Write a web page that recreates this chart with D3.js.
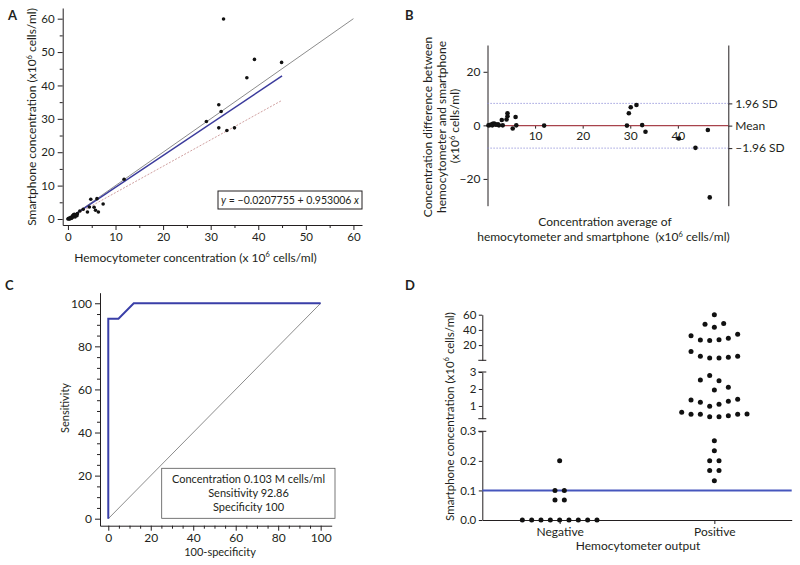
<!DOCTYPE html>
<html><head><meta charset="utf-8">
<script src="https://cdn.jsdelivr.net/npm/d3@7"></script>
<style>
body{margin:0;background:#fff}
text{font-family:Lato,'Open Sans',sans-serif;fill:#231f20}
</style>
</head><body>
<svg id="c" width="800" height="565"></svg>
<script>
// ---------- Panel A data ----------
const hemoA  = [32.7,39.2,44.9,37.6,31.7,32.2,29.1,31.7,33.4,35.0,11.8,4.8,6.1,7.4,4.5,4.1,5.5,5.8,6.4,2.5,3.2,0.0,0.1,0.2,0.3,0.5,0.6,0.7,0.9,1.0,1.1,1.2,1.3,1.4,1.5,1.7,1.9,2.0,0.4,0.8];
const smartA = [59.9,47.8,46.9,42.3,34.2,32.2,29.2,27.3,26.5,27.3,11.9,5.9,6.1,4.5,3.6,2.1,3.5,2.6,2.1,2.4,2.9,0.0,0.1,0.2,0.1,0.3,0.5,0.3,0.6,1.0,0.7,1.3,0.9,1.4,0.6,1.2,1.0,1.6,0.0,0.2];
const fitIntercept = -0.0207755, fitSlope = 0.953006, fitMaxX = 45;
const lowerSlope = 0.79;
const ticksA = [0,10,20,30,40,50,60];
const minorA = [5,15,25,35,45,55];

// ---------- Panel B data ----------
const avgB  = [46.7,43.7,46.3,40.2,33.2,32.5,31.3,30.1,29.7,29.3,11.9,5.9,6.05,5.3,4.2,4.2,4.0,3.0,2.4,1.1,0.5,0.2,0.8,1.4,1.8,2.2,1.0,1.6,3.2];
const diffB = [-26.9,-8.4,-1.75,-4.9,-2.4,0.1,7.6,6.75,4.5,-0.1,-0.1,3.1,0.0,-1.2,4.5,3.4,2.2,2.0,0.0,0.6,0.1,0.0,0.3,0.7,0.2,0.4,0.0,0.4,0.0];
const meanB = -0.1, upperB = 8.2, lowerB = -8.5;
const limitLabelsB = ["1.96 SD","Mean","\u20131.96 SD"];
const ticksBx = [10,20,30,40];
const ticksBy = [-20,0,20];

// ---------- Panel C data ----------
const rocX = [0,0,4.8,12,100];
const rocY = [0,92.86,92.86,100,100];
const ticksC = [0,20,40,60,80,100];
const minorC = [5,10,15,25,30,35,45,50,55,65,70,75,85,90,95];
const legendC = ["Concentration 0.103 M cells/ml","Sensitivity 92.86","Specificity 100"];

// ---------- Panel D data ----------
const categoriesD = ["Negative","Positive"];
const negValues = [0.2,0.1,0.1,0.0676,0.0676,0,0,0,0,0,0,0,0,0];
const posValues = [60,47.5,43.5,48.4,32.4,26.7,26.2,27.1,28.9,34.2,11.6,5.3,3.1,3.1,4.0,5.3,2.53,2.8,2.49,2.1,1.94,1.35,1.22,0.98,1.1,1.28,1.39,0.63,0.51,0.51,0.37,0.37,0.43,0.51,0.53,0.268,0.234,0.2,0.2,0.167,0.167,0.133];
const cutoffD = 0.1;
const seg1Ticks = [0,0.1,0.2,0.3], seg2Ticks = [1,2,3], seg3Ticks = [20,40,60];

const svg = d3.select('#c');
const INK = '#231f20';

function styleAxis(g, fs){
  g.attr('font-family', null).attr('font-size', fs);
  g.selectAll('path,line').attr('stroke', INK).attr('stroke-width', 1);
  g.selectAll('text').attr('fill', INK);
}
function rich(g, parts, attrs){
  const t = g.append('text');
  Object.entries(attrs).forEach(([k,v]) => t.attr(k,v));
  let prevSup = false;
  parts.forEach(p => {
    const isSup = typeof p !== 'string';
    const ts = t.append('tspan').text(isSup ? p.sup : p);
    if (isSup) { ts.attr('font-size', 7.5); if (!prevSup) ts.attr('dy', -4.5); }
    else if (prevSup) ts.attr('dy', 4.5);
    prevSup = isSup;
  });
  return t;
}
function label(g, txt, x, y, opts){
  const t = g.append('text').attr('x', x).attr('y', y).attr('font-size', (opts&&opts.fs)||11)
    .attr('text-anchor', (opts&&opts.anchor)||'middle').text(txt);
  if (opts && opts.bold) t.attr('font-weight', 'bold');
  return t;
}
const NB = '\u00a0';

// ================= Panel A =================
{
  const g = svg.append('g');
  const TF = 11.5, LF = 12;
  const x = d3.scaleLinear().domain([-1.1, 61.8]).range([62.7, 362]);
  const y = d3.scaleLinear().domain([-1.8, 63.2]).range([225, 8]);
  const ax = g.append('g').attr('transform','translate(0,225)')
    .call(d3.axisBottom(x).tickValues(ticksA).tickSize(5).tickSizeOuter(0).tickPadding(3));
  styleAxis(ax, TF);
  const axm = g.append('g').attr('transform','translate(0,225)')
    .call(d3.axisBottom(x).tickValues(minorA).tickSize(3).tickFormat(''));
  axm.select('.domain').remove(); styleAxis(axm, TF);
  const ay = g.append('g').attr('transform','translate(62.7,0)')
    .call(d3.axisLeft(y).tickValues(ticksA).tickSize(5).tickSizeOuter(0).tickPadding(3));
  styleAxis(ay, TF);
  const aym = g.append('g').attr('transform','translate(62.7,0)')
    .call(d3.axisLeft(y).tickValues(minorA).tickSize(3).tickFormat(''));
  aym.select('.domain').remove(); styleAxis(aym, TF);

  g.append('line').attr('x1',x(0)).attr('y1',y(0)).attr('x2',x(60)).attr('y2',y(60))
    .attr('stroke','#6e6e6e').attr('stroke-width',0.8);
  g.append('line').attr('x1',x(0)).attr('y1',y(0)).attr('x2',x(fitMaxX)).attr('y2',y(lowerSlope*fitMaxX))
    .attr('stroke','#d0a0a0').attr('stroke-width',1).attr('stroke-dasharray','2,1.5');
  g.append('line').attr('x1',x(0)).attr('y1',y(fitIntercept)).attr('x2',x(fitMaxX)).attr('y2',y(fitIntercept+fitSlope*fitMaxX))
    .attr('stroke','#3b3b9c').attr('stroke-width',1.5);
  g.selectAll('circle.pa').data(hemoA.map((h,i)=>[h,smartA[i]])).join('circle')
    .attr('cx',d=>x(d[0])).attr('cy',d=>y(d[1])).attr('r',1.8).attr('fill','#111');

  g.append('rect').attr('x',218).attr('y',191).attr('width',144).attr('height',18)
    .attr('fill','#fff').attr('stroke',INK).attr('stroke-width',1);
  const eq = g.append('text').attr('x',290).attr('y',204.3).attr('text-anchor','middle').attr('font-size',10.5);
  eq.append('tspan').attr('font-style','italic').text('y');
  eq.append('tspan').text(' = \u22120.0207755 + 0.953006 ');
  eq.append('tspan').attr('font-style','italic').text('x');

  label(g,'A',8,20,{anchor:'start',bold:true,fs:13});
  rich(g,['Smartphone concentration (x10',{sup:'6'},' cells/ml)'],
    {transform:'translate(36,117) rotate(-90)','text-anchor':'middle','font-size':LF});
  rich(g,['Hemocytometer concentration (x 10',{sup:'6'},' cells/ml)'],
    {x:195.5,y:261.5,'text-anchor':'middle','font-size':LF});
}

// ================= Panel B =================
{
  const g = svg.append('g');
  const TF = 12, LF = 12;
  const x = d3.scaleLinear().domain([0, 50.6]).range([487.5, 728.3]);
  const y = d3.scaleLinear().domain([-30, 30]).range([205.7, 45]);
  const ay = g.append('g').attr('transform','translate(487.5,0)')
    .call(d3.axisLeft(y).tickValues(ticksBy).tickSize(4).tickSizeOuter(0).tickPadding(3));
  styleAxis(ay, TF);
  const limits = [upperB, meanB, lowerB];
  const ar = g.append('g').attr('transform','translate(728.3,0)')
    .call(d3.axisRight(y).tickValues(limits).tickSize(4).tickSizeOuter(0).tickPadding(3)
      .tickFormat((d,i)=>limitLabelsB[i]));
  styleAxis(ar, TF);
  const axb = g.append('g').attr('transform',`translate(0,${y(meanB)})`)
    .call(d3.axisBottom(x).tickValues(ticksBx).tickSize(3).tickPadding(3));
  axb.select('.domain').remove(); styleAxis(axb, TF);

  [upperB, lowerB].forEach(v => g.append('line').attr('x1',x(0)).attr('x2',728.3)
    .attr('y1',y(v)).attr('y2',y(v)).attr('stroke','#8a8ad6').attr('stroke-width',1).attr('stroke-dasharray','1.2,1.8'));
  g.append('line').attr('x1',x(0)).attr('x2',728.3).attr('y1',y(meanB)).attr('y2',y(meanB))
    .attr('stroke','#a8434c').attr('stroke-width',1.2);
  g.selectAll('circle.pb').data(avgB.map((a,i)=>[a,diffB[i]])).join('circle')
    .attr('cx',d=>x(d[0])).attr('cy',d=>y(d[1])).attr('r',2.3).attr('fill','#111');

  label(g,'B',405,20,{anchor:'start',bold:true,fs:13});
  label(g,'Concentration difference between',0,0,{fs:LF}).attr('transform','translate(432,127) rotate(-90)');
  label(g,'hemocytometer and smartphone',0,0,{fs:LF}).attr('transform','translate(445.5,127) rotate(-90)');
  rich(g,['(x10',{sup:'6'},' cells/ml)'],{transform:'translate(459,126) rotate(-90)','text-anchor':'middle','font-size':LF});
  label(g,'Concentration average of',605,226,{fs:LF});
  rich(g,['hemocytometer and smartphone ' + NB + '(x10',{sup:'6'},' cells/ml)'],{x:603.5,y:241,'text-anchor':'middle','font-size':LF});
}

// ================= Panel C =================
{
  const g = svg.append('g');
  const TF = 12, LF = 11;
  const x = d3.scaleLinear().domain([-3.9, 105.2]).range([100, 331.7]);
  const y = d3.scaleLinear().domain([-3.25, 104.9]).range([525.7, 292.7]);
  const ax = g.append('g').attr('transform','translate(0,525.7)')
    .call(d3.axisBottom(x).tickValues(ticksC).tickSize(5).tickSizeOuter(0).tickPadding(3));
  styleAxis(ax, TF);
  const axm = g.append('g').attr('transform','translate(0,525.7)')
    .call(d3.axisBottom(x).tickValues(minorC).tickSize(3).tickFormat(''));
  axm.select('.domain').remove(); styleAxis(axm, TF);
  const ay = g.append('g').attr('transform','translate(100,0)')
    .call(d3.axisLeft(y).tickValues(ticksC).tickSize(5).tickSizeOuter(0).tickPadding(3));
  styleAxis(ay, TF);
  const aym = g.append('g').attr('transform','translate(100,0)')
    .call(d3.axisLeft(y).tickValues(minorC).tickSize(3).tickFormat(''));
  aym.select('.domain').remove(); styleAxis(aym, TF);

  g.append('line').attr('x1',x(0)).attr('y1',y(0)).attr('x2',x(100)).attr('y2',y(100))
    .attr('stroke','#6e6e6e').attr('stroke-width',0.8);
  g.append('path').datum(rocX.map((v,i)=>[v,rocY[i]]))
    .attr('d', d3.line().x(d=>x(d[0])).y(d=>y(d[1])))
    .attr('fill','none').attr('stroke','#3a3fa8').attr('stroke-width',2);

  g.append('rect').attr('x',161.7).attr('y',468.3).attr('width',173.3).attr('height',50)
    .attr('fill','#fff').attr('stroke','#555').attr('stroke-width',0.8);
  legendC.forEach((t,i)=>label(g,t,248.5,482.5+i*14.2,{fs:LF}));

  label(g,'C',5,290,{anchor:'start',bold:true,fs:13});
  label(g,'Sensitivity',0,0,{fs:LF}).attr('transform','translate(69,408) rotate(-90)');
  label(g,'100-specificity',220,556,{fs:LF});
}

// ================= Panel D =================
{
  const g = svg.append('g');
  const TF = 11.5, LF = 12;
  const AX = 482.3;
  const x = d3.scalePoint().domain(categoriesD).range([AX, 791.7]).padding(0.5);
  const segs = [
    {s: d3.scaleLinear().domain([0,0.3]).range([520,431.3]), ticks: seg1Ticks, fmt: d3.format('.1f'), lo:0, hi:0.3, capLo:false, capHi:true},
    {s: d3.scaleLinear().domain([0.25,3]).range([418.7,372]), ticks: seg2Ticks, fmt: d3.format('d'), lo:0.3, hi:3, capLo:true, capHi:true},
    {s: d3.scaleLinear().domain([0,60]).range([360.3,314.7]), ticks: seg3Ticks, fmt: d3.format('d'), lo:3, hi:Infinity, capLo:true, capHi:false}
  ];
  const yD = v => { const sg = segs.find(s => v <= s.hi && v >= (s === segs[0] ? -1 : s.lo)) || segs[2]; return sg.s(v); };
  segs.forEach(sg => {
    const a = g.append('g').attr('transform',`translate(${AX},0)`)
      .call(d3.axisLeft(sg.s).tickValues(sg.ticks).tickFormat(sg.fmt).tickSize(3.5).tickSizeOuter(0).tickPadding(2.5));
    styleAxis(a, TF);
    const r = sg.s.range();
    if (sg.capLo) g.append('line').attr('x1',AX-4).attr('x2',AX+4).attr('y1',r[0]).attr('y2',r[0]).attr('stroke',INK);
    if (sg.capHi) g.append('line').attr('x1',AX-4).attr('x2',AX+4).attr('y1',r[1]).attr('y2',r[1]).attr('stroke',INK);
  });
  const ax = g.append('g').attr('transform','translate(0,520)')
    .call(d3.axisBottom(x).tickSize(4).tickSizeOuter(0).tickPadding(3));
  styleAxis(ax, LF);

  g.append('line').attr('x1',AX).attr('x2',791.7).attr('y1',segs[0].s(cutoffD)).attr('y2',segs[0].s(cutoffD))
    .attr('stroke','#4656bd').attr('stroke-width',2);

  // row-based dot layout
  const step = 9.33;
  function layout(values, cat){
    const rows = []; let cur = null;
    values.forEach(v => {
      const py = yD(v);
      if (!cur || Math.abs(py - cur.py0) > 8) { cur = {py0: py, items: []}; rows.push(cur); }
      cur.items.push({v, py});
    });
    const out = [];
    rows.forEach(r => r.items.forEach((it,i) => out.push({cx: x(cat) + (i-(r.items.length-1)/2)*step, cy: it.py})));
    return out;
  }
  const dots = layout(negValues,'Negative').concat(layout(posValues,'Positive'));
  g.selectAll('circle.pd').data(dots).join('circle')
    .attr('cx',d=>d.cx).attr('cy',d=>d.cy).attr('r',2.5).attr('fill','#111');

  label(g,'D',405,290,{anchor:'start',bold:true,fs:13});
  rich(g,['Smartphone concentration (x10',{sup:'6'},' cells/ml)'],
    {transform:'translate(453.5,416.5) rotate(-90)','text-anchor':'middle','font-size':11.5});
  label(g,'Hemocytometer output',638,550,{fs:LF});
}
</script>
</body></html>
